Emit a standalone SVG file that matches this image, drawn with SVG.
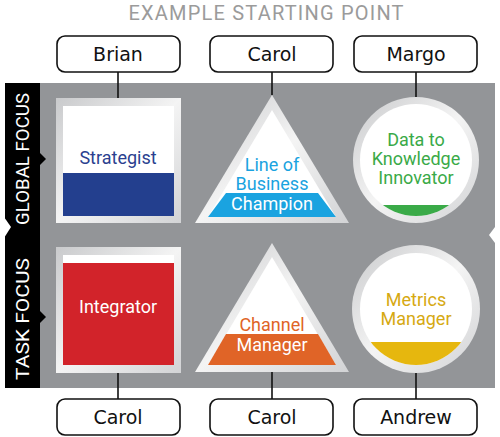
<svg xmlns="http://www.w3.org/2000/svg" width="500" height="437" viewBox="0 0 500 437">
<defs>
<linearGradient id="fr" x1="0" y1="0" x2="1" y2="1">
<stop offset="0" stop-color="#c9cacc"/>
<stop offset="0.5" stop-color="#f4f4f4"/>
<stop offset="1" stop-color="#d2d3d5"/>
</linearGradient>
<clipPath id="c1"><circle cx="416" cy="160" r="56"/></clipPath>
<clipPath id="c2"><circle cx="416" cy="309" r="56"/></clipPath>
</defs>
<style>
.nb{fill:#fff;stroke:#111;stroke-width:1.6}
.nt{font-family:"DejaVu Sans","Liberation Sans",sans-serif;font-size:19px;fill:#111;text-anchor:middle}
.ln{stroke:#111;stroke-width:1.6;fill:none}
.st{font-family:Roboto,"Liberation Sans",sans-serif;font-size:18px;text-anchor:middle}
.side{font-family:Roboto,"Liberation Sans",sans-serif;font-size:19px;fill:#fff;text-anchor:middle}
</style>
<rect width="500" height="437" fill="#fff"/>
<text x="266" y="20" font-family="Roboto,'Liberation Sans',sans-serif" font-size="20" fill="#9b9b9b" text-anchor="middle" textLength="275">EXAMPLE STARTING POINT</text>
<g id="panel">
<rect x="39" y="83" width="456" height="305" fill="#939598"/>
<polygon points="495,227 489,235 495,243" fill="#fff"/>
<rect x="5" y="83" width="35" height="305" fill="#000"/>
<polygon points="4,217 11,227 4,238" fill="#fff"/>
<polygon points="39,152 46,159 39,166" fill="#000"/>
<polygon points="39,310 46,317 39,324" fill="#000"/>
<text class="side" transform="translate(29,159) rotate(-90)" textLength="132" lengthAdjust="spacingAndGlyphs">GLOBAL FOCUS</text>
<text class="side" transform="translate(29,319) rotate(-90)" textLength="122" lengthAdjust="spacingAndGlyphs">TASK FOCUS</text>
</g>
<g id="connectors">
<line class="ln" x1="118" y1="72" x2="118" y2="98"/>
<line class="ln" x1="272" y1="72" x2="272" y2="95"/>
<line class="ln" x1="416" y1="72" x2="416" y2="97"/>
<line class="ln" x1="118" y1="373" x2="118" y2="399"/>
<line class="ln" x1="272" y1="372" x2="272" y2="399"/>
<line class="ln" x1="416" y1="373" x2="416" y2="399"/>
</g>
<g id="brian"><rect class="nb" x="57" y="36" width="123" height="36" rx="8"/><text class="nt" x="118" y="61">Brian</text></g>
<g id="carol-top"><rect class="nb" x="210" y="36" width="123" height="36" rx="8"/><text class="nt" x="272" y="61">Carol</text></g>
<g id="margo"><rect class="nb" x="354" y="36" width="123" height="36" rx="8"/><text class="nt" x="416" y="61">Margo</text></g>
<g id="carol-b1"><rect class="nb" x="57" y="399" width="123" height="36" rx="8"/><text class="nt" x="118" y="424">Carol</text></g>
<g id="carol-b2"><rect class="nb" x="210" y="399" width="123" height="36" rx="8"/><text class="nt" x="272" y="424">Carol</text></g>
<g id="andrew"><rect class="nb" x="354" y="399" width="123" height="36" rx="8"/><text class="nt" x="416" y="424">Andrew</text></g>
<g id="strategist">
<rect x="56" y="98" width="125" height="125" fill="url(#fr)"/>
<rect x="63" y="106" width="111" height="110" fill="#fff"/>
<rect x="63" y="173" width="111" height="43" fill="#233f8e"/>
<text class="st" x="118" y="164" fill="#2b3f8f">Strategist</text>
</g>
<g id="lob">
<polygon points="272,95 349,223 195,223" fill="url(#fr)"/>
<polygon points="272,110 336,217 208,217" fill="#fff"/>
<polygon points="226,193 318,193 336,217 208,217" fill="#1aa3e0"/>
<text class="st" x="272" y="171" fill="#1aa3e0">Line of</text>
<text class="st" x="272" y="190" fill="#1aa3e0">Business</text>
<text class="st" x="272" y="210" fill="#fff">Champion</text>
</g>
<g id="dki">
<circle cx="416" cy="160" r="63" fill="url(#fr)"/>
<circle cx="416" cy="160" r="56" fill="#fff"/>
<rect x="360" y="205" width="112" height="12" fill="#3aaa48" clip-path="url(#c1)"/>
<text class="st" x="416" y="146" fill="#3aaa48">Data to</text>
<text class="st" x="416" y="165" fill="#3aaa48">Knowledge</text>
<text class="st" x="416" y="184" fill="#3aaa48">Innovator</text>
</g>
<g id="integrator">
<rect x="56" y="247" width="125" height="126" fill="url(#fr)"/>
<rect x="63" y="255" width="111" height="110" fill="#fff"/>
<rect x="63" y="263" width="111" height="102" fill="#d2232a"/>
<text class="st" x="118" y="313" fill="#fff">Integrator</text>
</g>
<g id="channel">
<polygon points="272,243 349,372 195,372" fill="url(#fr)"/>
<polygon points="272,257 336,365 208,365" fill="#fff"/>
<polygon points="226,334 318,334 336,365 208,365" fill="#e06427"/>
<text class="st" x="272" y="331" fill="#e06427">Channel</text>
<text class="st" x="272" y="351" fill="#fff">Manager</text>
</g>
<g id="metrics">
<circle cx="416" cy="309" r="64" fill="url(#fr)"/>
<circle cx="416" cy="309" r="56" fill="#fff"/>
<rect x="360" y="342" width="112" height="24" fill="#e6b70e" clip-path="url(#c2)"/>
<text class="st" x="416" y="306" fill="#d6a912">Metrics</text>
<text class="st" x="416" y="325" fill="#d6a912">Manager</text>
</g>
</svg>
